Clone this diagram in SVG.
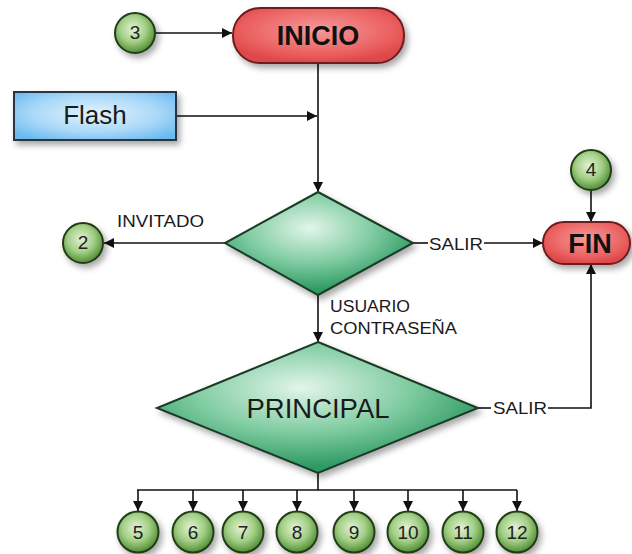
<svg xmlns="http://www.w3.org/2000/svg" width="632" height="554" viewBox="0 0 632 554">
  <style>
    .lbl { font-family: "Liberation Sans", Arial, sans-serif; fill: #1a1a1a; }
    .edge { fill: none; stroke: #111; stroke-width: 1.6; }
    .num { font-family: "Liberation Sans", Arial, sans-serif; font-size: 19px; fill: #222; text-anchor: middle; }
    .conn circle { fill: url(#gCircle); stroke: #213d17; stroke-width: 2; filter: url(#shadow); }
    .term rect { fill: url(#gRed); stroke: #6e1c1c; stroke-width: 2; filter: url(#shadow); }
    .term text { font-family: "Liberation Sans", Arial, sans-serif; font-weight: bold; font-size: 27px; fill: #111; text-anchor: middle; }
    .dec polygon { fill: url(#gGreen); stroke: #1c3a26; stroke-width: 2; filter: url(#shadow); }
  </style>
  <defs>
    <filter id="shadow" x="-20%" y="-20%" width="150%" height="160%">
      <feDropShadow dx="3" dy="4" stdDeviation="3" flood-color="#000" flood-opacity="0.35"/>
    </filter>
    <radialGradient id="gCircle" cx="45%" cy="40%" r="60%">
      <stop offset="0" stop-color="#e2f2d4"/>
      <stop offset="0.55" stop-color="#a3cf86"/>
      <stop offset="1" stop-color="#4f8d34"/>
    </radialGradient>
    <radialGradient id="gRed" cx="50%" cy="40%" r="60%">
      <stop offset="0" stop-color="#f59a9a"/>
      <stop offset="0.7" stop-color="#ec6262"/>
      <stop offset="1" stop-color="#dd4848"/>
    </radialGradient>
    <radialGradient id="gGreen" cx="45%" cy="35%" r="60%">
      <stop offset="0" stop-color="#e2f5ea"/>
      <stop offset="0.55" stop-color="#82cda3"/>
      <stop offset="1" stop-color="#2f9a64"/>
    </radialGradient>
    <radialGradient id="gBlue" cx="50%" cy="45%" r="65%">
      <stop offset="0" stop-color="#e4f3fd"/>
      <stop offset="0.6" stop-color="#a9d8f8"/>
      <stop offset="1" stop-color="#6bbaf0"/>
    </radialGradient>
    <marker id="arrow" viewBox="0 0 10 10" refX="10" refY="5" markerWidth="10" markerHeight="10" markerUnits="userSpaceOnUse" orient="auto">
      <path d="M0,0 L10,5 L0,10 z" fill="#111"/>
    </marker>
  </defs>

  <!-- connectors -->
  <g id="connectors">
    <line class="edge" x1="155" y1="33" x2="232" y2="33" marker-end="url(#arrow)"/>
    <line class="edge" x1="318" y1="63" x2="318" y2="192" marker-end="url(#arrow)"/>
    <line class="edge" x1="176" y1="116" x2="317" y2="116" marker-end="url(#arrow)"/>
    <line class="edge" x1="225" y1="243" x2="104" y2="243" marker-end="url(#arrow)"/>
    <line class="edge" x1="413" y1="243" x2="428" y2="243"/>
    <line class="edge" x1="484" y1="243" x2="543" y2="243" marker-end="url(#arrow)"/>
    <line class="edge" x1="591" y1="191" x2="591" y2="222" marker-end="url(#arrow)"/>
    <line class="edge" x1="318" y1="295" x2="318" y2="342" marker-end="url(#arrow)"/>
    <line class="edge" x1="478" y1="408" x2="491" y2="408"/>
    <polyline class="edge" points="548,408 591,408 591,264" marker-end="url(#arrow)"/>
    <line class="edge" x1="318" y1="473" x2="318" y2="490"/>
    <line class="edge" x1="137" y1="490" x2="517" y2="490"/>
    <line class="edge" x1="138" y1="490" x2="138" y2="511" marker-end="url(#arrow)"/>
    <line class="edge" x1="193" y1="490" x2="193" y2="511" marker-end="url(#arrow)"/>
    <line class="edge" x1="243" y1="490" x2="243" y2="511" marker-end="url(#arrow)"/>
    <line class="edge" x1="297" y1="490" x2="297" y2="511" marker-end="url(#arrow)"/>
    <line class="edge" x1="354" y1="490" x2="354" y2="511" marker-end="url(#arrow)"/>
    <line class="edge" x1="408" y1="490" x2="408" y2="511" marker-end="url(#arrow)"/>
    <line class="edge" x1="463" y1="490" x2="463" y2="511" marker-end="url(#arrow)"/>
    <line class="edge" x1="517" y1="490" x2="517" y2="511" marker-end="url(#arrow)"/>
    <text class="lbl" x="117" y="227" font-size="16.5" textLength="87" lengthAdjust="spacingAndGlyphs">INVITADO</text>
    <text class="lbl" x="429" y="250" font-size="16.5" textLength="54" lengthAdjust="spacingAndGlyphs">SALIR</text>
    <text class="lbl" x="493" y="414" font-size="16.5" textLength="54" lengthAdjust="spacingAndGlyphs">SALIR</text>
    <text class="lbl" x="330" y="312" font-size="16" textLength="80" lengthAdjust="spacingAndGlyphs">USUARIO</text>
    <text class="lbl" x="330" y="334" font-size="16" textLength="127" lengthAdjust="spacingAndGlyphs">CONTRASEÑA</text>
  </g>

  <!-- start / end terminals -->
  <g id="inicio" class="term">
    <rect x="233" y="8" width="171" height="55" rx="27"/>
    <text x="318" y="45">INICIO</text>
  </g>
  <g id="fin" class="term">
    <rect x="543" y="222" width="87" height="42" rx="21"/>
    <text x="590" y="253">FIN</text>
  </g>

  <!-- input box -->
  <g id="flash">
    <rect x="14" y="92" width="162" height="48" fill="url(#gBlue)" stroke="#2a3440" stroke-width="2" filter="url(#shadow)"/>
    <text class="lbl" x="95" y="124" font-size="26" text-anchor="middle">Flash</text>
  </g>

  <!-- decisions -->
  <g id="login" class="dec">
    <polygon points="318,192 413,243 318,295 225,243"/>
  </g>
  <g id="principal" class="dec">
    <polygon points="318,342 478,408 318,473 157,408"/>
    <text class="lbl" x="318" y="418" font-size="28" text-anchor="middle" textLength="143" lengthAdjust="spacingAndGlyphs">PRINCIPAL</text>
  </g>

  <!-- off-page connectors -->
  <g id="c3" class="conn"><circle cx="135" cy="33" r="20"/><text class="num" x="135" y="39">3</text></g>
  <g id="c2" class="conn"><circle cx="83" cy="243" r="20"/><text class="num" x="83" y="249">2</text></g>
  <g id="c4" class="conn"><circle cx="591" cy="170" r="20"/><text class="num" x="591" y="176">4</text></g>
  <g id="c5" class="conn"><circle cx="138" cy="532" r="20.5"/><text class="num" x="138" y="539">5</text></g>
  <g id="c6" class="conn"><circle cx="193" cy="532" r="20.5"/><text class="num" x="193" y="539">6</text></g>
  <g id="c7" class="conn"><circle cx="243" cy="532" r="20.5"/><text class="num" x="243" y="539">7</text></g>
  <g id="c8" class="conn"><circle cx="297" cy="532" r="20.5"/><text class="num" x="297" y="539">8</text></g>
  <g id="c9" class="conn"><circle cx="354" cy="532" r="20.5"/><text class="num" x="354" y="539">9</text></g>
  <g id="c10" class="conn"><circle cx="408" cy="532" r="20.5"/><text class="num" x="408" y="539">10</text></g>
  <g id="c11" class="conn"><circle cx="463" cy="532" r="20.5"/><text class="num" x="463" y="539">11</text></g>
  <g id="c12" class="conn"><circle cx="517" cy="532" r="20.5"/><text class="num" x="517" y="539">12</text></g>
</svg>
